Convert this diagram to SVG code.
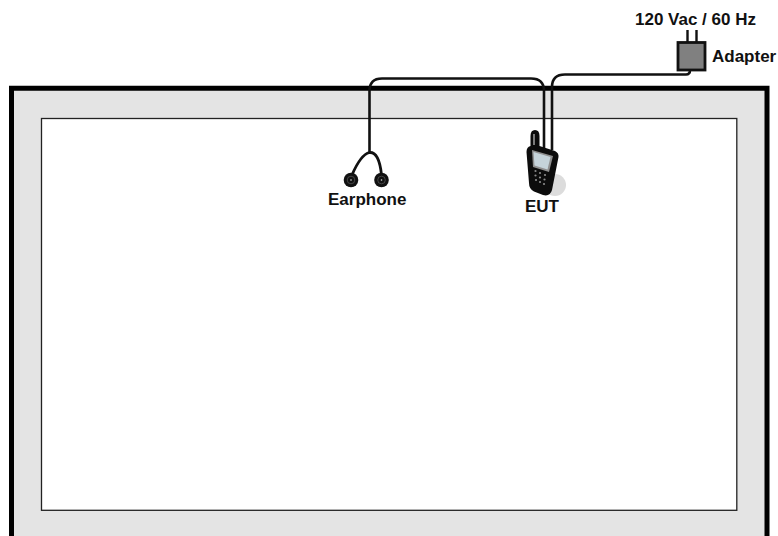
<svg xmlns="http://www.w3.org/2000/svg" width="778" height="536" viewBox="0 0 778 536">
<style>
text{font-family:"Liberation Sans",Arial,sans-serif;font-weight:bold;font-size:17px;fill:#111}
.cable{fill:none;stroke:#111;stroke-width:2.600}
.thin{fill:none;stroke:#111;stroke-width:2.400}
.bud{fill:#111}
.ring{fill:none;stroke:#666;stroke-width:.6}
.hole{fill:#ddd}
</style>
<rect width="778" height="536" fill="#fff"/>
<g id="room">
<path d="M11.500 536V88.300H767V536" fill="#e4e4e4" stroke="#000" stroke-width="5"/>
<rect x="41.500" y="118.500" width="695.300" height="391.800" fill="#fff" stroke="#222" stroke-width="1.300"/>
</g>
<g id="connectors">
<path class="cable" d="M369.500 152V91Q369.500 78.500 382 78.500H531Q544 78.500 544 91V150"/>
<path class="cable" d="M552 150V87Q552 74.500 565 74.500H686Q690 74.500 690 70"/>
<path class="thin" d="M687.500 30V42M696.500 30V42"/>
</g>
<g id="adapter">
<rect x="678" y="42.500" width="27" height="27.500" fill="#808080" stroke="#111" stroke-width="2.800"/>
<text x="712" y="62">Adapter</text>
<text x="635" y="25">120 Vac / 60 Hz</text>
</g>
<g id="earphone">
<path d="M352 175C358 161 363 154 369.500 152.500C376 152 380 160 381.500 175" fill="none" stroke="#111" stroke-width="2.800"/>
<circle class="bud" cx="351" cy="180" r="7.300"/><circle class="ring" cx="351" cy="180" r="3.800"/><circle class="hole" cx="351" cy="180" r=".8"/>
<circle class="bud" cx="381.500" cy="180" r="7.300"/><circle class="ring" cx="381.500" cy="180" r="3.800"/><circle class="hole" cx="381.500" cy="180" r=".8"/>
<text x="328" y="205">Earphone</text>
</g>
<g id="eut">
<ellipse cx="555" cy="185" rx="11" ry="11" fill="#dcdcdc"/>
<path d="M530.500 136Q530.500 130 535 130T539.500 136V146L555 151Q559 153 558.500 157L552 190Q550 197 543 195L534 191.500Q529 189 529 183L526.500 152Q526.500 147 530.500 146Z" fill="#0c0c0c"/>
<path d="M534 134V145" stroke="#999" stroke-width="1.600" fill="none"/>
<path d="M532 150L553 156L549 172L533 167Z" fill="#8f8f8f"/>
<path d="M533.500 152L550.500 157L547.500 169.500L534.500 165.500Z" fill="#c5d3da"/>
<g fill="#8a8a8a"><circle cx="535.500" cy="171" r="1.100"/><circle cx="540" cy="173" r="1.100"/><circle cx="545" cy="175" r="1.100"/><circle cx="535.500" cy="175.500" r="1.100"/><circle cx="540" cy="177.500" r="1.100"/><circle cx="544.500" cy="179.500" r="1.100"/><circle cx="536" cy="180" r="1.100"/><circle cx="540" cy="182" r="1.100"/><circle cx="544" cy="184" r="1.100"/></g>
<text x="525" y="212">EUT</text>
</g>
</svg>
